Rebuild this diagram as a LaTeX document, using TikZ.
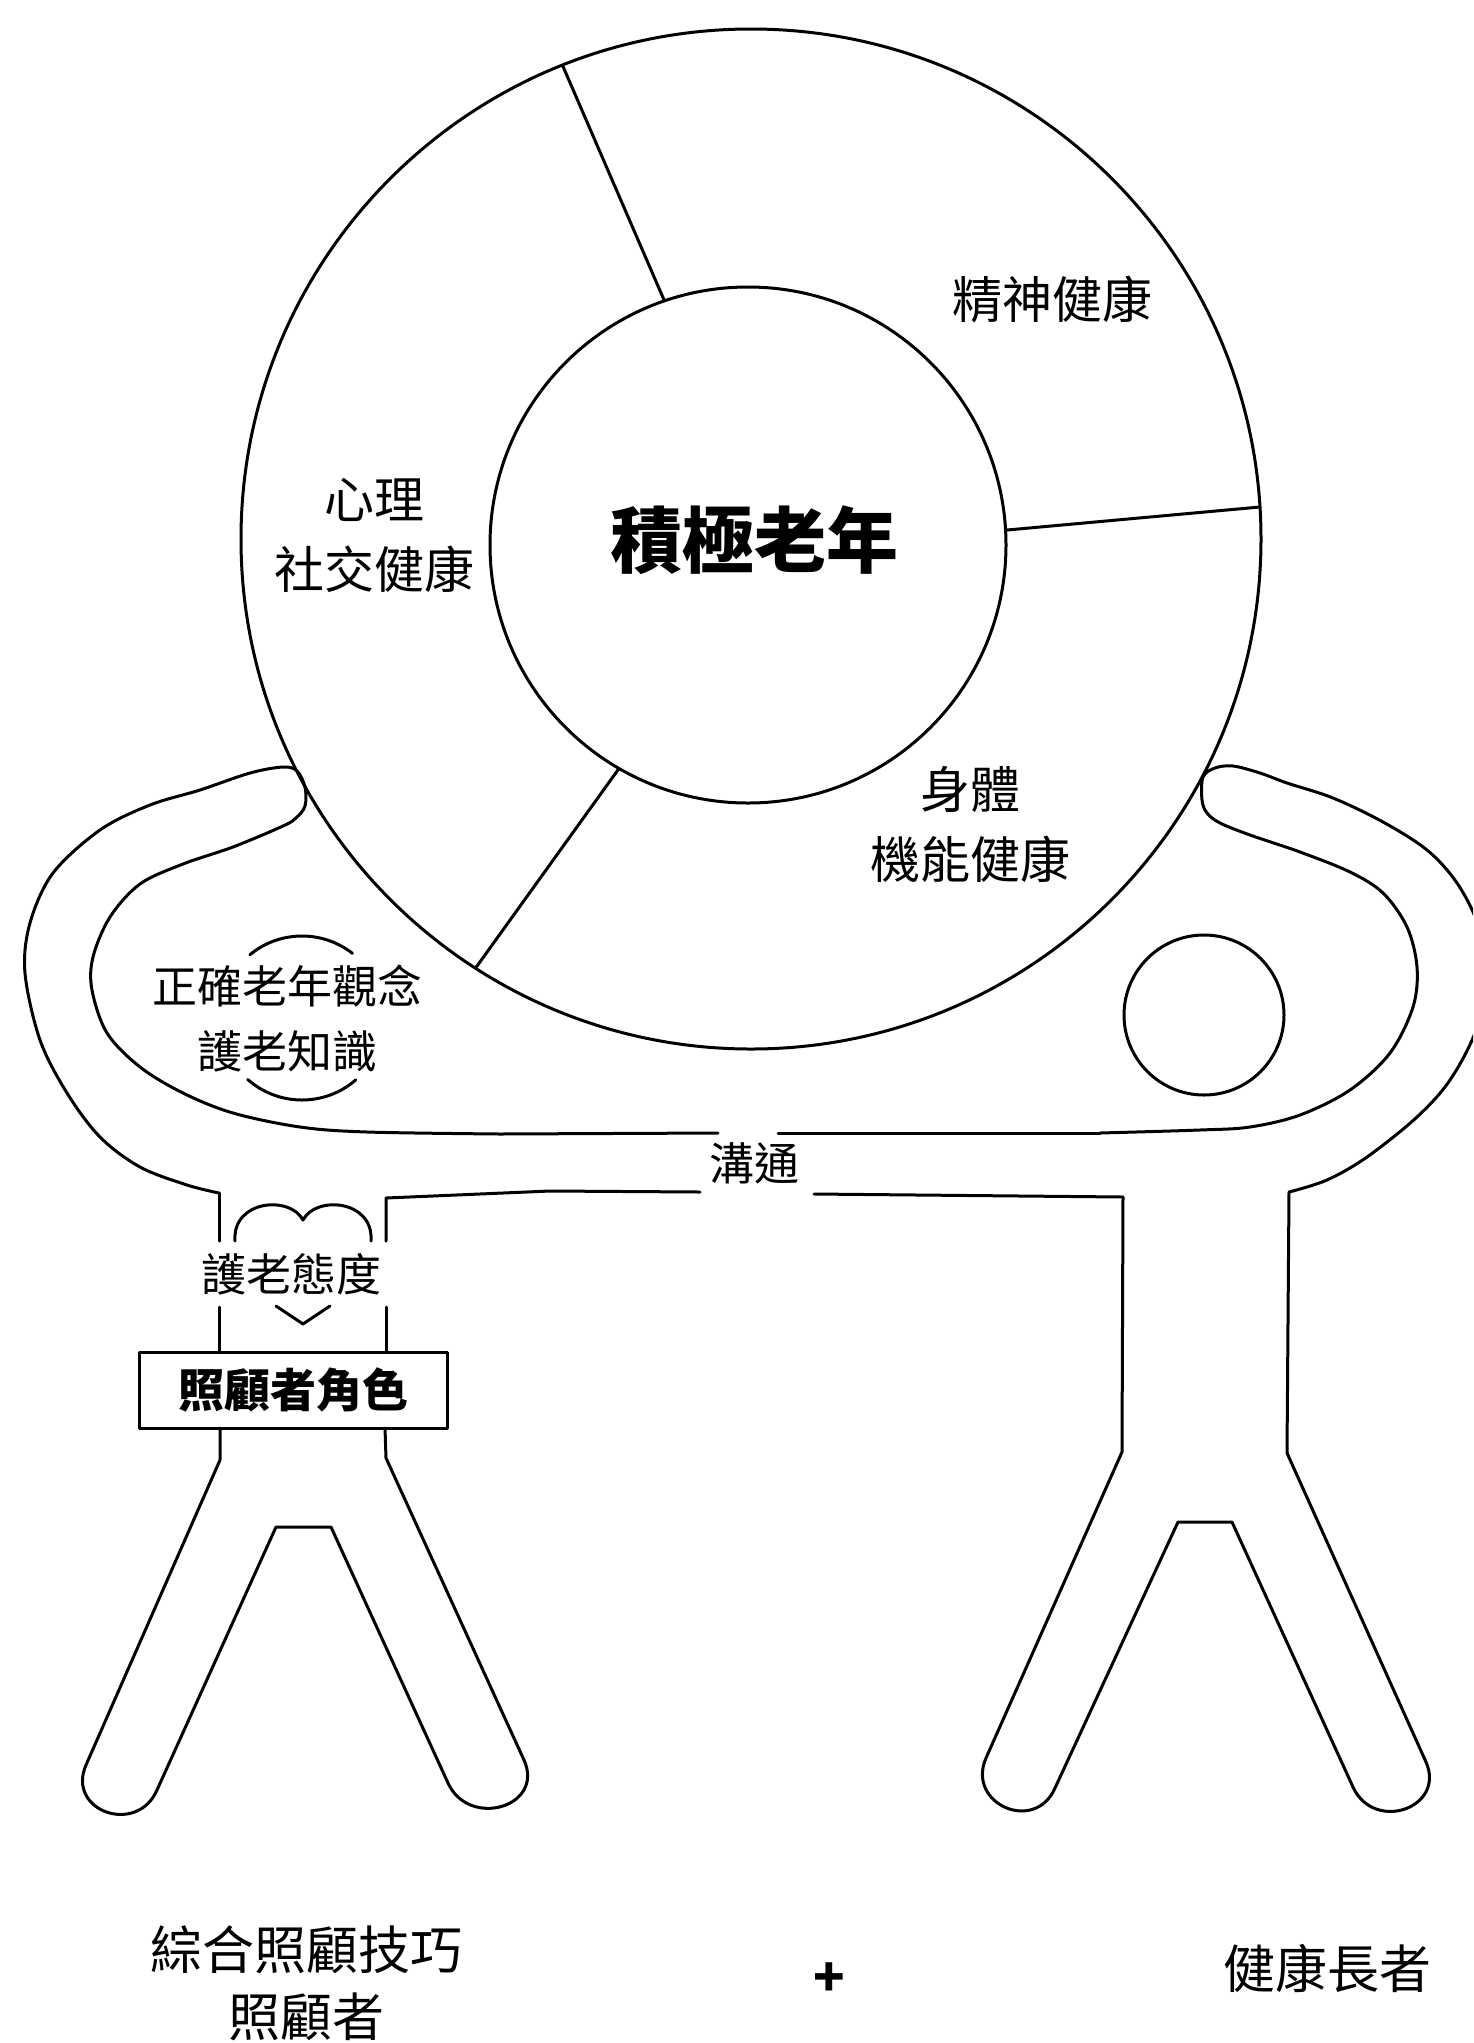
\documentclass[tikz,border=0pt]{standalone}
\usepackage{fontspec}
\newfontfamily\cjk{Noto Sans CJK TC}
\begin{document}
\begin{tikzpicture}[x=1pt, y=-1pt, line width=3pt, line join=round, line cap=round,
  txt/.style={inner sep=0pt, align=center, font=\cjk\fontsize{50}{70}\selectfont},
  smalltxt/.style={inner sep=0pt, align=center, font=\cjk\fontsize{45}{65}\selectfont},
  bigtxt/.style={inner sep=0pt, align=center, font=\cjk\bfseries\fontsize{72}{80}\selectfont},
  rolebox/.style={draw, inner sep=0pt, minimum width=308pt, minimum height=76pt,
                  font=\cjk\bfseries\fontsize{46}{50}\selectfont},
  foottxt/.style={inner sep=0pt, align=center, font=\cjk\fontsize{52}{67}\selectfont}]

\useasboundingbox (0,0) rectangle (1473,2043);
\fill[white] (0,0) rectangle (1473,2043);
\clip (0,0) rectangle (1473,2043);

% ---- the ring of active ageing ----
\coordinate (bc) at (751,539);
\coordinate (ic) at (748,545);
\draw (bc) circle[radius=510];
\draw (ic) circle[radius=258];
\draw ([shift={(bc)}]-111.7:510) -- ([shift={(ic)}]-108.9:258);
\draw ([shift={(bc)}]-3.6:510)   -- ([shift={(ic)}]-3.3:258);
\draw ([shift={(bc)}]122.7:510)  -- ([shift={(ic)}]120:258);

\node[bigtxt] (core) at (754,540) {積極老年};
\node[txt] (mental) at (1052,300) {精神健康};
\node[txt] (social) at (374,535) {心理\\社交健康};
\node[txt] (physical) at (970,824) {身體\\機能健康};

% ---- carer: arms, head and knowledge ----
\draw (219,1241) -- (219,1193);
\draw plot[smooth, tension=0.55] coordinates {(219,1193) (187,1185) (140,1167) (100,1137)
  (67,1093) (40,1040) (25,973) (30,923) (53,873) (100,830) (150,805) (200,790) (250,773)
  (283,767) (297,771) (305,787) (305,806) (296,818) (283,826) (233,847) (183,864) (140,884)
  (110,917) (93,957) (92,990) (107,1033) (140,1067) (183,1093) (233,1113) (300,1127)
  (367,1132) (500,1134)};
\draw (500,1134) -- (718,1133);

\coordinate (chead) at (302,1018);
\draw ([shift={(chead)}]-129.5:82) arc[start angle=-129.5, end angle=-52, radius=82];
\draw ([shift={(chead)}]131.5:82) arc[start angle=131.5, end angle=49, radius=82];
\node[smalltxt] (view) at (287,1019) {正確老年觀念\\護老知識};

% ---- communication band ----
\draw (778,1133) -- (1100,1133);
\draw (386,1241) -- (386,1198) -- (550,1191) -- (700,1192);
\draw (814,1194) -- (1123,1197);
\node[smalltxt] (talk) at (754,1163) {溝通};

% ---- elder: arm, head, body and legs ----
\draw plot[smooth, tension=0.55] coordinates {(1100,1133) (1200,1130) (1250,1127) (1300,1115)
  (1350,1090) (1390,1053) (1413,1007) (1417,967) (1407,927) (1383,893) (1350,872) (1300,852)
  (1250,835) (1220,823) (1207,813) (1202,800) (1203,777) (1215,768) (1233,766) (1260,773)
  (1287,783) (1333,798) (1383,822) (1427,850) (1457,883) (1478,925) (1486,975) (1476,1030)
  (1450,1080) (1417,1117) (1367,1157) (1327,1180) (1289,1192)};
\draw (ic) ++(0,0) (1204,1015) coordinate (ehead) circle[radius=80];
\draw (1289,1192) -- (1287,1453) -- (1426,1762)
  .. controls (1446,1808) and (1374,1833) .. (1353,1787)
  -- (1232,1522) -- (1178,1522) -- (1055,1788)
  .. controls (1035,1834) and (966,1804) .. (986,1758)
  -- (1122,1452) -- (1123,1197);

% ---- carer: heart, role and legs ----
\draw (235,1241) .. controls (232,1200) and (290,1195) .. (303,1220)
  .. controls (316,1195) and (374,1200) .. (371,1241);
\draw (276,1306) -- (303,1324) -- (330,1306);
\node[smalltxt] (attitude) at (291,1274) {護老態度};
\draw (219,1307) -- (219,1352);
\draw (386,1307) -- (386,1352);
\node[rolebox] (role) at (293,1390) {照顧者角色};
\draw (385,1428) -- (386,1458) -- (524,1760)
  .. controls (545,1807) and (469,1829) .. (448,1783)
  -- (331,1527) -- (276,1527) -- (157,1790)
  .. controls (137,1836) and (66,1811) .. (86,1765)
  -- (220,1460) -- (220,1428);

% ---- captions ----
\node[foottxt] (carer) at (306,1983) {綜合照顧技巧\\照顧者};
\node[inner sep=0pt, font=\cjk\bfseries\fontsize{52}{60}\selectfont] (plus) at (829,1980) {+};
\node[foottxt] (elder) at (1327,1968) {健康長者};
\end{tikzpicture}
\end{document}
